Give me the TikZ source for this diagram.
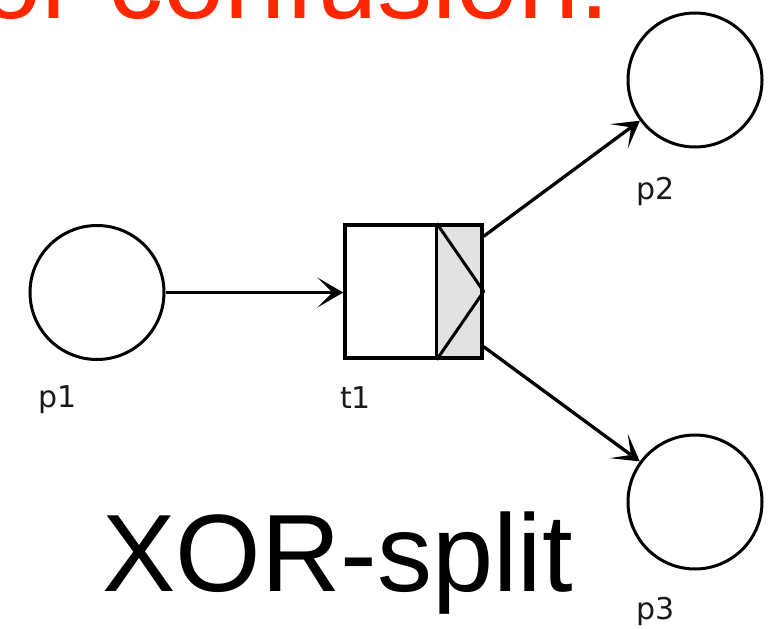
\documentclass[tikz,border=0pt]{standalone}
\usepackage{fontspec}
\setmainfont{Liberation Sans}
\newfontfamily\lblfont{DejaVu Sans}
\usetikzlibrary{arrows.meta,calc}
\definecolor{redtxt}{RGB}{255,38,0}
\definecolor{grayfill}{RGB}{226,226,226}
\tikzset{
  place/.style={circle,draw,line width=3pt,minimum size=134pt,inner sep=0pt},
  trans/.style={rectangle,draw,line width=3.4pt,minimum width=137pt,minimum height=133pt,inner sep=0pt},
  arc/.style={line width=3.3pt,-{Stealth[length=26pt,width=30pt,inset=15pt]}},
  lbl/.style={anchor=base west,inner sep=0pt,font=\lblfont\fontsize{30}{34}\selectfont,text=black!90},
  big/.style={anchor=base west,inner sep=0pt,font=\fontsize{110}{120}\selectfont}
}
\begin{document}
\begin{tikzpicture}[x=1pt,y=-1pt]
\useasboundingbox (0,0) rectangle (769,629);
% title fragments
\node[big,text=redtxt] (title) at (-20,18) {or confusion.};
\node[big,text=black] (xor) at (102,591) {XOR-split};
% places
\node[place] (p1) at (97,292.5) {};
\node[place] (p2) at (695,80) {};
\node[place] (p3) at (695,502) {};
% transition
\node[trans] (t1) at (413.5,291.5) {};
\coordinate (dtop) at ($(t1.north east)+(-47,0)$);
\coordinate (dbot) at ($(t1.south east)+(-47,0)$);
\fill[grayfill] (dtop) rectangle (t1.south east);
\draw[line width=3pt,line join=bevel] (dtop) -- (t1.east) -- (dbot);
\draw[line width=3.4pt] (dtop) -- (dbot);
\node[trans] at (t1) {};
% labels
\node[lbl] (l1) at (38,407) {p1};
\node[lbl] (lt) at (340,408) {t1};
\node[lbl] (l2) at (636,199) {p2};
\node[lbl] (l3) at (636,619) {p3};
% arcs
\coordinate (s2) at ($(t1.north east)+(0,13)$);
\coordinate (s3) at ($(t1.south east)+(0,-13)$);
\draw[arc] (p1) -- (p1 -| t1.west);
\draw[arc] (s2) -- (p2);
\draw[arc] (s3) -- (p3);
\end{tikzpicture}
\end{document}
